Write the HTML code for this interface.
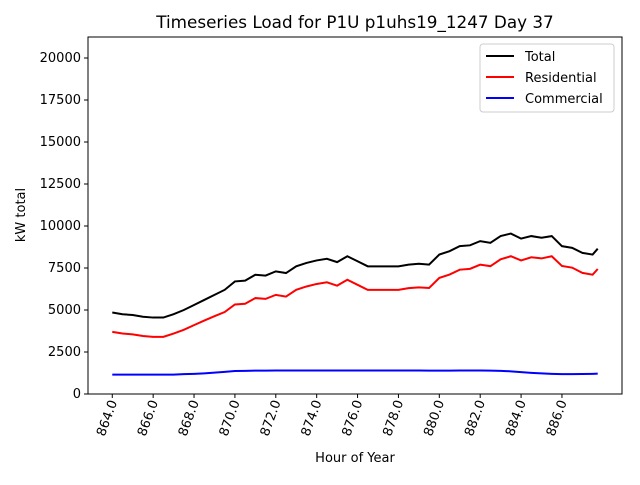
<!DOCTYPE html>
<html><head><meta charset="utf-8"><style>
body{margin:0;background:#fff;font-family:"Liberation Sans","DejaVu Sans",sans-serif}
svg text{font-family:"DejaVu Sans","Liberation Sans",sans-serif}
</style></head><body>
<svg id="chart" width="640" height="480" viewBox="0 0 640 480">
<rect width="640" height="480" fill="#fff"/>
<text x="355" y="28" font-size="16.8" text-anchor="middle">Timeseries Load for P1U p1uhs19_1247  Day 37</text>
<g id="grid"></g>
<g id="series"></g>
<rect x="88" y="37" width="534" height="357" fill="none" stroke="#000" stroke-width="1"/>
<g id="axes"></g>
<text x="355" y="462" font-size="13" text-anchor="middle">Hour of Year</text>
<text transform="translate(25,215) rotate(-90)" font-size="13" text-anchor="middle">kW total</text>
<g>
<rect x="480" y="44" width="134" height="68" fill="#fff" stroke="#ccc" rx="3"/>
<line x1="486" y1="56" x2="514" y2="56" stroke="#000" stroke-width="2"/>
<text x="525" y="61" font-size="13">Total</text>
<line x1="486" y1="77" x2="514" y2="77" stroke="red" stroke-width="2"/>
<text x="525" y="82" font-size="13">Residential</text>
<line x1="486" y1="98" x2="514" y2="98" stroke="blue" stroke-width="2"/>
<text x="525" y="103" font-size="13">Commercial</text>
</g>
</svg>
<script>
const hours=[864,864.5,865,865.5,866,866.5,867,867.5,868,868.5,869,869.5,870,870.5,871,871.5,872,872.5,873,873.5,874,874.5,875,875.5,876,876.5,877,877.5,878,878.5,879,879.5,880,880.5,881,881.5,882,882.5,883,883.5,884,884.5,885,885.5,886,886.5,887,887.5,887.75];
const total=[4850,4750,4700,4600,4550,4550,4750,5000,5300,5600,5900,6200,6700,6750,7100,7050,7300,7200,7600,7800,7950,8050,7850,8200,7900,7600,7600,7600,7600,7700,7750,7700,8300,8500,8800,8850,9100,9000,9400,9550,9250,9400,9300,9400,8800,8700,8400,8300,8650];
const commercial=[1150,1150,1150,1150,1150,1150,1150,1180,1200,1230,1270,1320,1370,1380,1390,1390,1400,1400,1400,1400,1400,1400,1400,1400,1400,1400,1400,1400,1400,1400,1400,1390,1390,1390,1400,1400,1400,1390,1380,1350,1300,1260,1230,1200,1180,1180,1190,1200,1210];
const residential=[3700,3600,3550,3450,3400,3400,3600,3820,4100,4370,4630,4880,5330,5370,5710,5660,5900,5800,6200,6400,6550,6650,6450,6800,6500,6200,6200,6200,6200,6300,6350,6310,6910,7110,7400,7450,7700,7610,8020,8200,7950,8140,8070,8200,7620,7520,7210,7100,7440];
const yTicks=[0,2500,5000,7500,10000,12500,15000,17500,20000];
const xTicks=[864,866,868,870,872,874,876,878,880,882,884,886];
const L=88,R=622,T=37,B=394,x0=862.8125,x1=888.9375,y0=0,y1=21250;
const X=v=>L+(v-x0)/(x1-x0)*(R-L);
const Y=v=>B-(v-y0)/(y1-y0)*(B-T);
const NS="http://www.w3.org/2000/svg";
const axes=document.getElementById('axes'),series=document.getElementById('series');
function mk(t,a,p){const e=document.createElementNS(NS,t);for(const k in a)e.setAttribute(k,a[k]);p.appendChild(e);return e;}
yTicks.forEach(v=>{
  const l=mk('line',{x1:L-4,x2:L,y1:Y(v),y2:Y(v),stroke:'#000'},axes);
  
  
  const t=mk('text',{x:L-7,y:Y(v)+4,'font-size':13,'text-anchor':'end'},axes);
  
  
  t.textContent=v;
});
xTicks.forEach(v=>{
  const l=mk('line',{x1:X(v),x2:X(v),y1:B,y2:B+4,stroke:'#000'},axes);
  
  
  const t=mk('text',{transform:`translate(${X(v)+5},${B+8}) rotate(-70)`,'font-size':13,'text-anchor':'end'},axes);
  
  
  t.textContent=v.toFixed(1);
});
[[total,'#000','total-line'],[residential,'red','residential-line'],[commercial,'blue','commercial-line']].forEach(([d,c,n])=>{
  const p=mk('polyline',{points:d.map((v,i)=>X(hours[i])+','+Y(v)).join(' '),fill:'none',stroke:c,'stroke-width':2},series);
  
  
});
</script>
</body></html>
